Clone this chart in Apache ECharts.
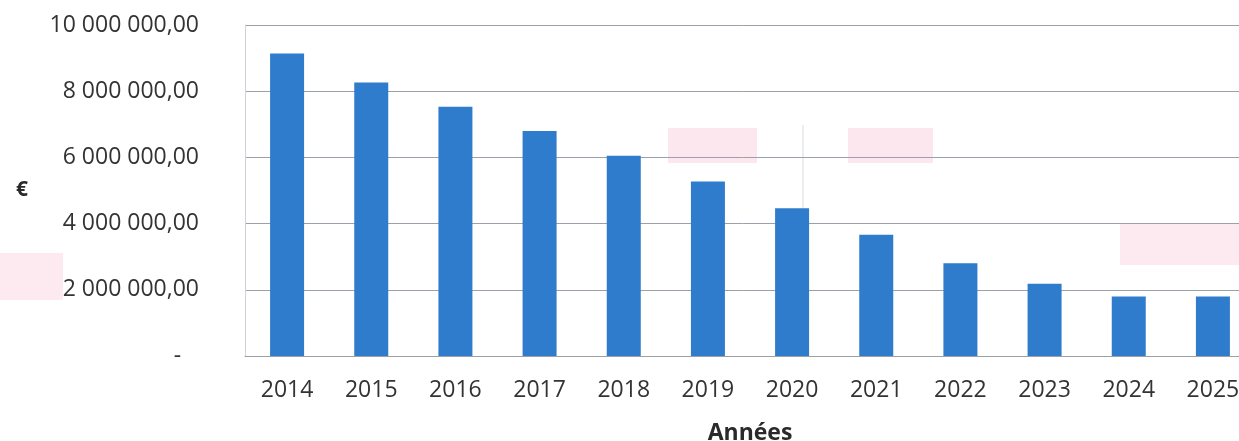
<!DOCTYPE html>
<html>
<head>
<meta charset="utf-8">
<script src="https://cdn.jsdelivr.net/npm/echarts@6/dist/echarts.min.js"></script>
<style>
  html, body { margin: 0; padding: 0; background: #ffffff; }
  #chart { width: 1239px; height: 441px; }
</style>
</head>
<body>
<div id="chart"></div>
<script>
// Annual amounts in euros, 2014 to 2025
const years = ['2014', '2015', '2016', '2017', '2018', '2019', '2020', '2021', '2022', '2023', '2024', '2025'];
const amounts = [9140000, 8260000, 7530000, 6800000, 6050000, 5270000, 4460000, 3660000, 2800000, 2180000, 1800000, 1800000];
const yTicks = { min: 0, max: 10000000, step: 2000000 };
const axisTitles = { x: 'Années', y: '€' };

// French number style: spaces between thousands, comma decimals; zero shown as a dash
function euroLabel(v) {
  if (v === 0) return '-   ';
  const parts = v.toFixed(2).split('.');
  const intPart = parts[0].replace(/\B(?=(\d{3})+(?!\d))/g, ' ');
  return intPart + ',' + parts[1];
}

const chart = echarts.init(document.getElementById('chart'), null, { renderer: 'canvas' });

const font = '"Open Sans", "Noto Sans", sans-serif';

chart.setOption({
  animation: false,
  backgroundColor: '#ffffff',
  textStyle: { fontFamily: font },
  // the plot runs slightly past the right edge of the page
  grid: { left: 245, width: 1010, top: 25, height: 331, containLabel: false, outerBoundsMode: 'none' },
  xAxis: {
    type: 'category',
    data: years,
    name: axisTitles.x,
    nameLocation: 'middle',
    nameGap: 66,
    nameTextStyle: { fontFamily: font, fontSize: 23, fontWeight: 'bold', color: '#2a2a2a' },
    axisLine: { show: true, lineStyle: { color: '#9aa0a6', width: 1 } },
    axisTick: { show: false },
    axisLabel: { fontFamily: font, fontSize: 23, color: '#333333', margin: 23 }
  },
  yAxis: {
    type: 'value',
    min: yTicks.min,
    max: yTicks.max,
    interval: yTicks.step,
    name: axisTitles.y,
    nameLocation: 'middle',
    nameRotate: 0,
    nameGap: 217,
    nameTextStyle: { fontFamily: font, fontSize: 21, fontWeight: 'bold', color: '#2a2a2a', padding: [12, 0, 0, 0] },
    axisLine: { show: true, lineStyle: { color: '#cfd3d8', width: 1 } },
    axisTick: { show: false },
    axisLabel: { fontFamily: font, fontSize: 23, color: '#333333', margin: 46, padding: [6, 0, 0, 0], formatter: euroLabel },
    splitLine: { show: true, lineStyle: { color: '#9ba1a8', width: 1 } }
  },
  series: [{
    type: 'bar',
    data: amounts,
    barWidth: 34,
    itemStyle: { color: '#2f7ccc' },
    z: 3
  }],
  // faint stamp marks showing through the paper
  graphic: [
    { type: 'rect', silent: true, z: -1, shape: { x: 668, y: 128, width: 89, height: 35 }, style: { fill: '#fce7ef' } },
    { type: 'rect', silent: true, z: -1, shape: { x: 848, y: 128, width: 85, height: 35 }, style: { fill: '#fce7ef' } },
    { type: 'rect', silent: true, z: -1, shape: { x: 1120, y: 223, width: 119, height: 42 }, style: { fill: '#fdeaf1' } },
    { type: 'rect', silent: true, z: -1, shape: { x: 0, y: 253, width: 63, height: 47 }, style: { fill: '#fdeaf1' } },
    { type: 'line', silent: true, z: -1, shape: { x1: 803, y1: 125, x2: 803, y2: 355 }, style: { stroke: '#d8dce2', lineWidth: 1 } }
  ]
});
</script>
</body>
</html>
